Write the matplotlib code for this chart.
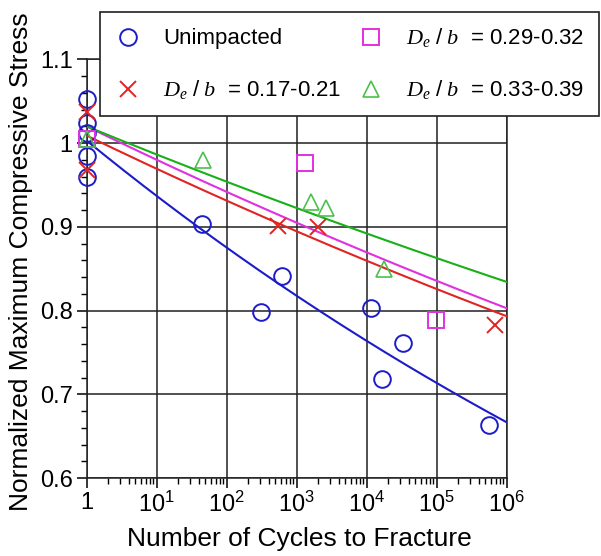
import numpy as np
import matplotlib
matplotlib.use('Agg')
import matplotlib.pyplot as plt
from matplotlib.ticker import FixedLocator, LogLocator, FixedFormatter, NullFormatter

plt.rcParams['font.family'] = ['Liberation Sans', 'DejaVu Sans']
plt.rcParams['mathtext.fontset'] = 'custom'
plt.rcParams['mathtext.rm'] = 'Liberation Sans'
plt.rcParams['mathtext.it'] = 'Liberation Serif:italic'

# data
unimp_n = [1, 1, 1, 1, 1, 44.7, 311, 621, 1.16e4, 1.66e4, 3.3e4, 5.6e5]
unimp_s = [1.053, 1.024, 1.012, 0.985, 0.960, 0.903, 0.798, 0.841, 0.803, 0.718, 0.761, 0.663]

d17_n = [1, 1, 544, 2030, 6.85e5]
d17_s = [1.037, 0.968, 0.901, 0.900, 0.7825]

d29_n = [1, 1320, 9.84e4]
d29_s = [1.005, 0.976, 0.789]

d33_n = [1, 46, 1600, 2640, 1.78e4]
d33_s = [1.005, 0.980, 0.930, 0.922, 0.850]

# power-law fits S = A * N^b
fit_a = {'unimp': 1.003, 'd17': 1.009, 'd29': 1.020, 'd33': 1.020}
fit_b = {'unimp': -0.02957, 'd17': -0.01741, 'd29': -0.01733, 'd33': -0.01455}

blue = '#1c1cc8'
red = '#e02424'
magenta = '#e030e0'
green_m = '#4cc04c'
green_l = '#18b018'

fig = plt.figure(figsize=(6.01, 5.56), dpi=100)
ax = fig.add_axes([86.5 / 601, 1 - 478 / 556, 420 / 601, 418.7 / 556])

nn = np.logspace(0, 6, 200)
ax.plot(nn, fit_a['unimp'] * nn ** fit_b['unimp'], color=blue, lw=1.5, zorder=3)
ax.plot(nn, fit_a['d17'] * nn ** fit_b['d17'], color=red, lw=1.5, zorder=3)
ax.plot(nn, fit_a['d29'] * nn ** fit_b['d29'], color=magenta, lw=1.5, zorder=3)
ax.plot(nn, fit_a['d33'] * nn ** fit_b['d33'], color=green_l, lw=1.5, zorder=3)

h1, = ax.plot(unimp_n, unimp_s, 'o', ms=12, mfc='none', mec=blue, mew=1.4,
              label='Unimpacted', zorder=4, clip_on=False)
h2, = ax.plot(d17_n, d17_s, 'x', ms=12, mec=red, mew=1.4,
              label=r'$D_e\ /\ b$  = 0.17-0.21', zorder=4, clip_on=False)
h3, = ax.plot(d29_n, d29_s, 's', ms=11, mfc='none', mec=magenta, mew=1.4,
              label=r'$D_e\ /\ b$  = 0.29-0.32', zorder=4, clip_on=False)
h4, = ax.plot(d33_n, d33_s, '^', ms=12, mfc='none', mec=green_m, mew=1.2,
              label=r'$D_e\ /\ b$  = 0.33-0.39', zorder=4, clip_on=False)

ax.set_xscale('log')
ax.set_xlim(1, 1e6)
ax.set_ylim(0.6, 1.1)

xt = [1, 10, 100, 1e3, 1e4, 1e5, 1e6]
xt_labels = ['1'] + [r'$\mathregular{10^{%d}}$' % k for k in range(1, 7)]
ax.xaxis.set_major_locator(FixedLocator(xt))
ax.xaxis.set_major_formatter(FixedFormatter(xt_labels))
ax.xaxis.set_minor_locator(LogLocator(base=10, subs=np.arange(2, 10), numticks=20))
ax.xaxis.set_minor_formatter(NullFormatter())

yt = [0.6, 0.7, 0.8, 0.9, 1.0, 1.1]
ax.yaxis.set_major_locator(FixedLocator(yt))
ax.yaxis.set_major_formatter(FixedFormatter(['0.6', '0.7', '0.8', '0.9', '1', '1.1']))
ax.yaxis.set_minor_locator(FixedLocator(np.arange(0.62, 1.1, 0.02)))

ax.tick_params(which='major', direction='out', length=7, width=1.1, labelsize=17, pad=3)
ax.tick_params(which='minor', direction='out', length=4, width=1.0)
ax.grid(True, which='major', color='#202020', lw=1.1)
for sp in ax.spines.values():
    sp.set_linewidth(1.1)
    sp.set_color('#202020')

ax.set_xlabel('Number of Cycles to Fracture', fontsize=19)
ax.set_ylabel('Normalized Maximum Compressive Stress', fontsize=19)
ax.xaxis.set_label_coords(0.506, -0.118)
ax.yaxis.set_label_coords(-0.127, 0.516)

leg = fig.legend(handles=[h1, h2, h3, h4], ncol=2, loc='upper left',
                 bbox_to_anchor=(100 / 601, 1 - 12 / 556), borderaxespad=0,
                 fontsize=16, frameon=True, fancybox=False, framealpha=1,
                 edgecolor='#202020', handlelength=1.2, handletextpad=1.0,
                 columnspacing=0.7, borderpad=0.65, labelspacing=1.3)
leg.get_frame().set_linewidth(1.2)

fig.savefig('out.png', dpi=100)
